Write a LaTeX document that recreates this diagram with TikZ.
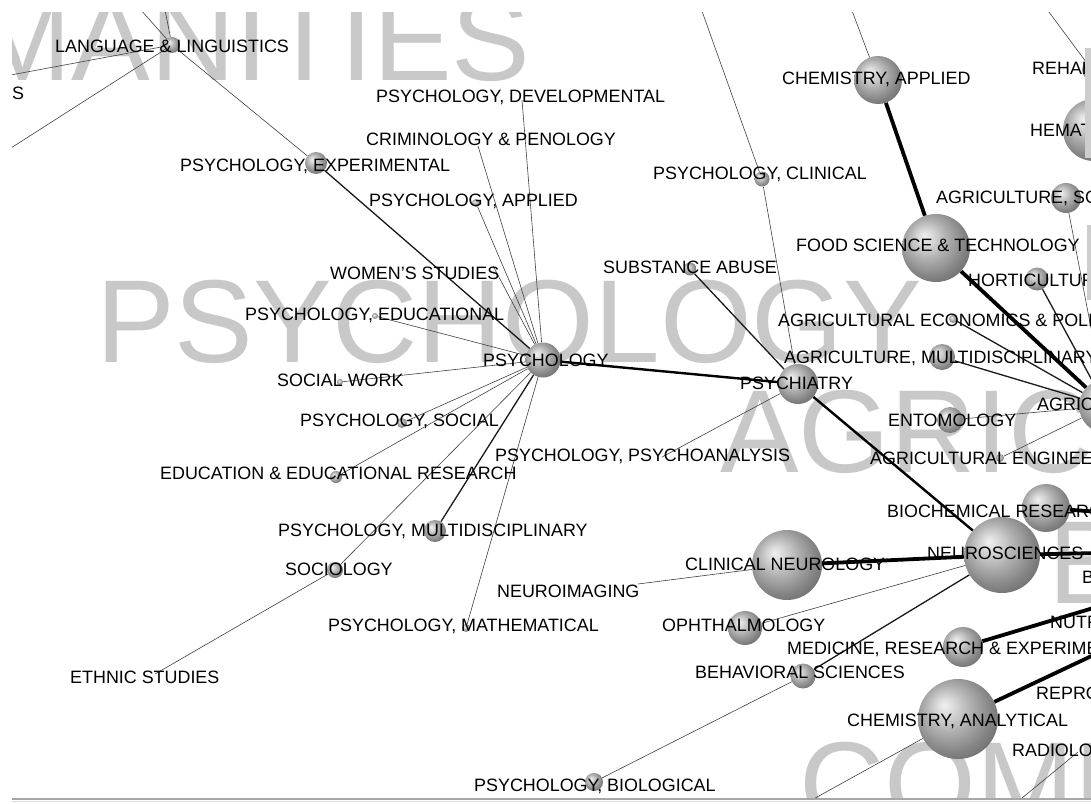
\documentclass[tikz,border=0pt]{standalone}
\usepackage{fontspec}
\setmainfont{Liberation Sans}
\usepackage{xcolor}
\usepackage{tikz}

\definecolor{bigtext}{RGB}{200,200,200}
\definecolor{frame}{RGB}{205,205,205}
\pgfdeclareradialshading{orbshade}{\pgfpoint{-9bp}{9bp}}{color(0bp)=(black!6); color(5bp)=(black!14); color(15bp)=(black!32); color(25bp)=(black!48); color(34bp)=(black!60); color(50bp)=(black!66)}

\begin{document}
\begin{tikzpicture}[x=1pt,y=-1pt]
  \tikzstyle{orb}=[circle,shading=orbshade,inner sep=0pt]
  \tikzstyle{lbl}=[anchor=base west,inner sep=0pt,font=\fontsize{17.9}{20}\selectfont]
  \tikzstyle{bigword}=[anchor=base west,inner sep=0pt,text=bigtext,font=\fontsize{118}{120}\selectfont]
  \tikzstyle{thinlink}=[line width=0.6pt,black!75]
  \tikzstyle{midlink}=[line width=1.3pt,black!90]
  \tikzstyle{fatlink}=[line width=2.4pt,black]
  \tikzstyle{heavylink}=[line width=3.8pt,black]
  \useasboundingbox (0,0) rectangle (1091,803);
  \begin{scope}
  \clip (12,12) rectangle (1091,797);
  % background words
  \node[bigword] (wHum) at (-27,80) {MANITIES};
  \node[bigword] (wPsy) at (96,362) {PSYCHOLOGY};
  \node[bigword] (wAgr) at (720,472) {AGRIC};
  \node[bigword] (wBio) at (1048,603) {B};
  \node[bigword] (wCom) at (799,824) {COMP};
  % spheres
  \node[orb,minimum size=16pt] (lang) at (172,45) {};
  \node[orb,minimum size=22pt] (psyexp) at (316,163) {};
  \node[orb,minimum size=8pt] (psyapp) at (476,203) {};
  \node[orb,minimum size=6pt] (psyedu) at (375,316) {};
  \node[orb,minimum size=35pt] (psych) at (543,360) {};
  \node[orb,minimum size=6pt] (socwork) at (340,382) {};
  \node[orb,minimum size=10pt] (psysoc) at (402,423) {};
  \node[orb,minimum size=12pt] (edu) at (336,477) {};
  \node[orb,minimum size=22pt] (psymulti) at (435,531) {};
  \node[orb,minimum size=16pt] (sociology) at (335,570) {};
  \node[orb,minimum size=8pt] (psymath) at (466,628) {};
  \node[orb,minimum size=18pt] (psybio) at (594,782) {};
  \node[orb,minimum size=13pt] (substance) at (690,269) {};
  \node[orb,minimum size=15pt] (psyclin) at (762,179) {};
  \node[orb,minimum size=40pt] (psychiatry) at (798,384) {};
  \node[orb,minimum size=48pt] (chemapp) at (878,80) {};
  \node[orb,minimum size=68pt] (foodsci) at (936,248) {};
  \node[orb,minimum size=20pt] (rehab) at (1092,70) {};
  \node[orb,minimum size=62pt] (hemat) at (1094,130) {};
  \node[orb,minimum size=30pt] (agrisoil) at (1066,198) {};
  \node[orb,minimum size=23pt] (horti) at (1037,279) {};
  \node[orb,minimum size=8pt] (agriecon) at (953,319) {};
  \node[orb,minimum size=26pt] (agrimulti) at (942,357) {};
  \node[orb,minimum size=54pt] (agri) at (1106,406) {};
  \node[orb,minimum size=26pt] (entomology) at (950,420) {};
  \node[orb,minimum size=8pt] (agreng) at (1000,458) {};
  \node[orb,minimum size=48pt] (biochem) at (1046,508) {};
  \node[orb,minimum size=76pt] (neuro) at (1002,555) {};
  \node[orb,minimum size=70pt] (clinneuro) at (787,565) {};
  \node[orb,minimum size=34pt] (ophth) at (745,628) {};
  \node[orb,minimum size=40pt] (medres) at (963,647) {};
  \node[orb,minimum size=25pt] (behav) at (803,676) {};
  \node[orb,minimum size=80pt] (chemana) at (958,719) {};
  % end points without a sphere
  \coordinate (psydev) at (522,100);
  \coordinate (crim) at (478,146);
  \coordinate (women) at (493,266);
  \coordinate (psyana) at (662,457);
  \coordinate (neuroimg) at (638,584);
  \coordinate (ethnic) at (155,674);
  \coordinate (radiol) at (1078,752);
  \coordinate (langW) at (0,77);
  \coordinate (langSW) at (0,155);
  \coordinate (langN) at (132,0);
  \coordinate (langNN) at (163,0);
  \coordinate (clinN) at (698,0);
  \coordinate (chemN) at (848,0);
  \coordinate (rehabN) at (1040,0);
  \coordinate (chemS) at (790,812);
  \coordinate (radiolS) at (1005,812);
  \coordinate (neuroE) at (1100,553);
  \coordinate (biochemE) at (1100,512);
  \coordinate (nutrE) at (1100,606);
  \coordinate (reproE) at (1100,652);
  % links
  \foreach \a/\b in {lang/langW,lang/langSW,lang/langN,lang/langNN,lang/psyexp,psydev/psych,crim/psych,psyapp/psych,women/psych,psyedu/psych,socwork/psych,psysoc/psych,edu/psych,sociology/psych,psymath/psych,sociology/ethnic,clinN/psyclin,psyclin/psychiatry,psyana/psychiatry,neuroimg/clinneuro,ophth/neuro,psybio/behav,chemN/chemapp,rehabN/rehab,agrisoil/agri,entomology/agri,agreng/agri,chemana/chemS,radiol/radiolS}
    \draw[thinlink] (\a) -- (\b);
  \foreach \a/\b in {psyexp/psych,psymulti/psych,substance/psychiatry,behav/neuro,horti/agri,agrimulti/agri,agriecon/agri}
    \draw[midlink] (\a) -- (\b);
  \foreach \a/\b in {psych/psychiatry,psychiatry/neuro}
    \draw[fatlink] (\a) -- (\b);
  \foreach \a/\b in {chemapp/foodsci,foodsci/agri,clinneuro/neuro,neuro/neuroE,biochem/biochemE,medres/nutrE,chemana/reproE}
    \draw[heavylink] (\a) -- (\b);
  % labels
  \node[lbl] (tLang) at (55,52) {LANGUAGE \& LINGUISTICS};
  \node[lbl] (tS) at (12,99) {S};
  \node[lbl] (tDev) at (376,102) {PSYCHOLOGY, DEVELOPMENTAL};
  \node[lbl] (tCrim) at (366,145) {CRIMINOLOGY \& PENOLOGY};
  \node[lbl] (tExp) at (180,171) {PSYCHOLOGY, EXPERIMENTAL};
  \node[lbl] (tApp) at (369,206) {PSYCHOLOGY, APPLIED};
  \node[lbl] (tClin) at (653,179) {PSYCHOLOGY, CLINICAL};
  \node[lbl] (tChemApp) at (782,84) {CHEMISTRY, APPLIED};
  \node[lbl] (tRehab) at (1032,74) {REHAB};
  \node[lbl] (tHemat) at (1030,136) {HEMAT};
  \node[lbl] (tSoil) at (936,203) {AGRICULTURE, SO};
  \node[lbl] (tFood) at (796,251) {FOOD SCIENCE \& TECHNOLOGY};
  \node[lbl] (tHorti) at (968,286) {HORTICULTUR};
  \node[lbl] (tSubst) at (603,273) {SUBSTANCE ABUSE};
  \node[lbl] (tWomen) at (330,279) {WOMEN'S STUDIES};
  \node[lbl] (tEduc) at (245,320) {PSYCHOLOGY, EDUCATIONAL};
  \node[lbl] (tEcon) at (778,326) {AGRICULTURAL ECONOMICS \& POLI};
  \node[lbl] (tAgMulti) at (784,363) {AGRICULTURE, MULTIDISCIPLINARY};
  \node[lbl] (tPsych) at (483,366) {PSYCHOLOGY};
  \node[lbl] (tPsychiatry) at (740,389) {PSYCHIATRY};
  \node[lbl] (tSocWork) at (277,386) {SOCIAL WORK};
  \node[lbl] (tAgri) at (1037,410) {AGRIC};
  \node[lbl] (tEnto) at (888,426) {ENTOMOLOGY};
  \node[lbl] (tSoc) at (300,426) {PSYCHOLOGY, SOCIAL};
  \node[lbl] (tAna) at (495,461) {PSYCHOLOGY, PSYCHOANALYSIS};
  \node[lbl] (tAgEng) at (870,464) {AGRICULTURAL ENGINEER};
  \node[lbl] (tEdu) at (160,479) {EDUCATION \& EDUCATIONAL RESEARCH};
  \node[lbl] (tBiochem) at (887,517) {BIOCHEMICAL RESEARC};
  \node[lbl] (tMulti) at (278,536) {PSYCHOLOGY, MULTIDISCIPLINARY};
  \node[lbl] (tNeuro) at (927,559) {NEUROSCIENCES};
  \node[lbl] (tClinNeuro) at (685,570) {CLINICAL NEUROLOGY};
  \node[lbl] (tSociology) at (285,575) {SOCIOLOGY};
  \node[lbl] (tImg) at (497,597) {NEUROIMAGING};
  \node[lbl] (tB) at (1082,583) {B};
  \node[lbl] (tOphth) at (662,631) {OPHTHALMOLOGY};
  \node[lbl] (tMath) at (328,631) {PSYCHOLOGY, MATHEMATICAL};
  \node[lbl] (tNutr) at (1050,628) {NUTR};
  \node[lbl] (tMedRes) at (787,654) {MEDICINE, RESEARCH \& EXPERIME};
  \node[lbl] (tEthnic) at (70,683) {ETHNIC STUDIES};
  \node[lbl] (tBehav) at (695,678) {BEHAVIORAL SCIENCES};
  \node[lbl] (tRepro) at (1036,699) {REPRO};
  \node[lbl] (tChemAna) at (847,726) {CHEMISTRY, ANALYTICAL};
  \node[lbl] (tRadiol) at (1012,756) {RADIOLO};
  \node[lbl] (tBio) at (474,791) {PSYCHOLOGY, BIOLOGICAL};
  % strips at the right edge
  \fill[frame] (1085,48) rectangle (1091,158);
  \fill[frame] (1087,225) rectangle (1091,300);
  \end{scope}
  \draw[black!35,line width=1.2pt] (12,799) -- (1091,799);
  \draw[black!15,line width=1.2pt] (12,801.2) -- (1091,801.2);
\end{tikzpicture}
\end{document}
